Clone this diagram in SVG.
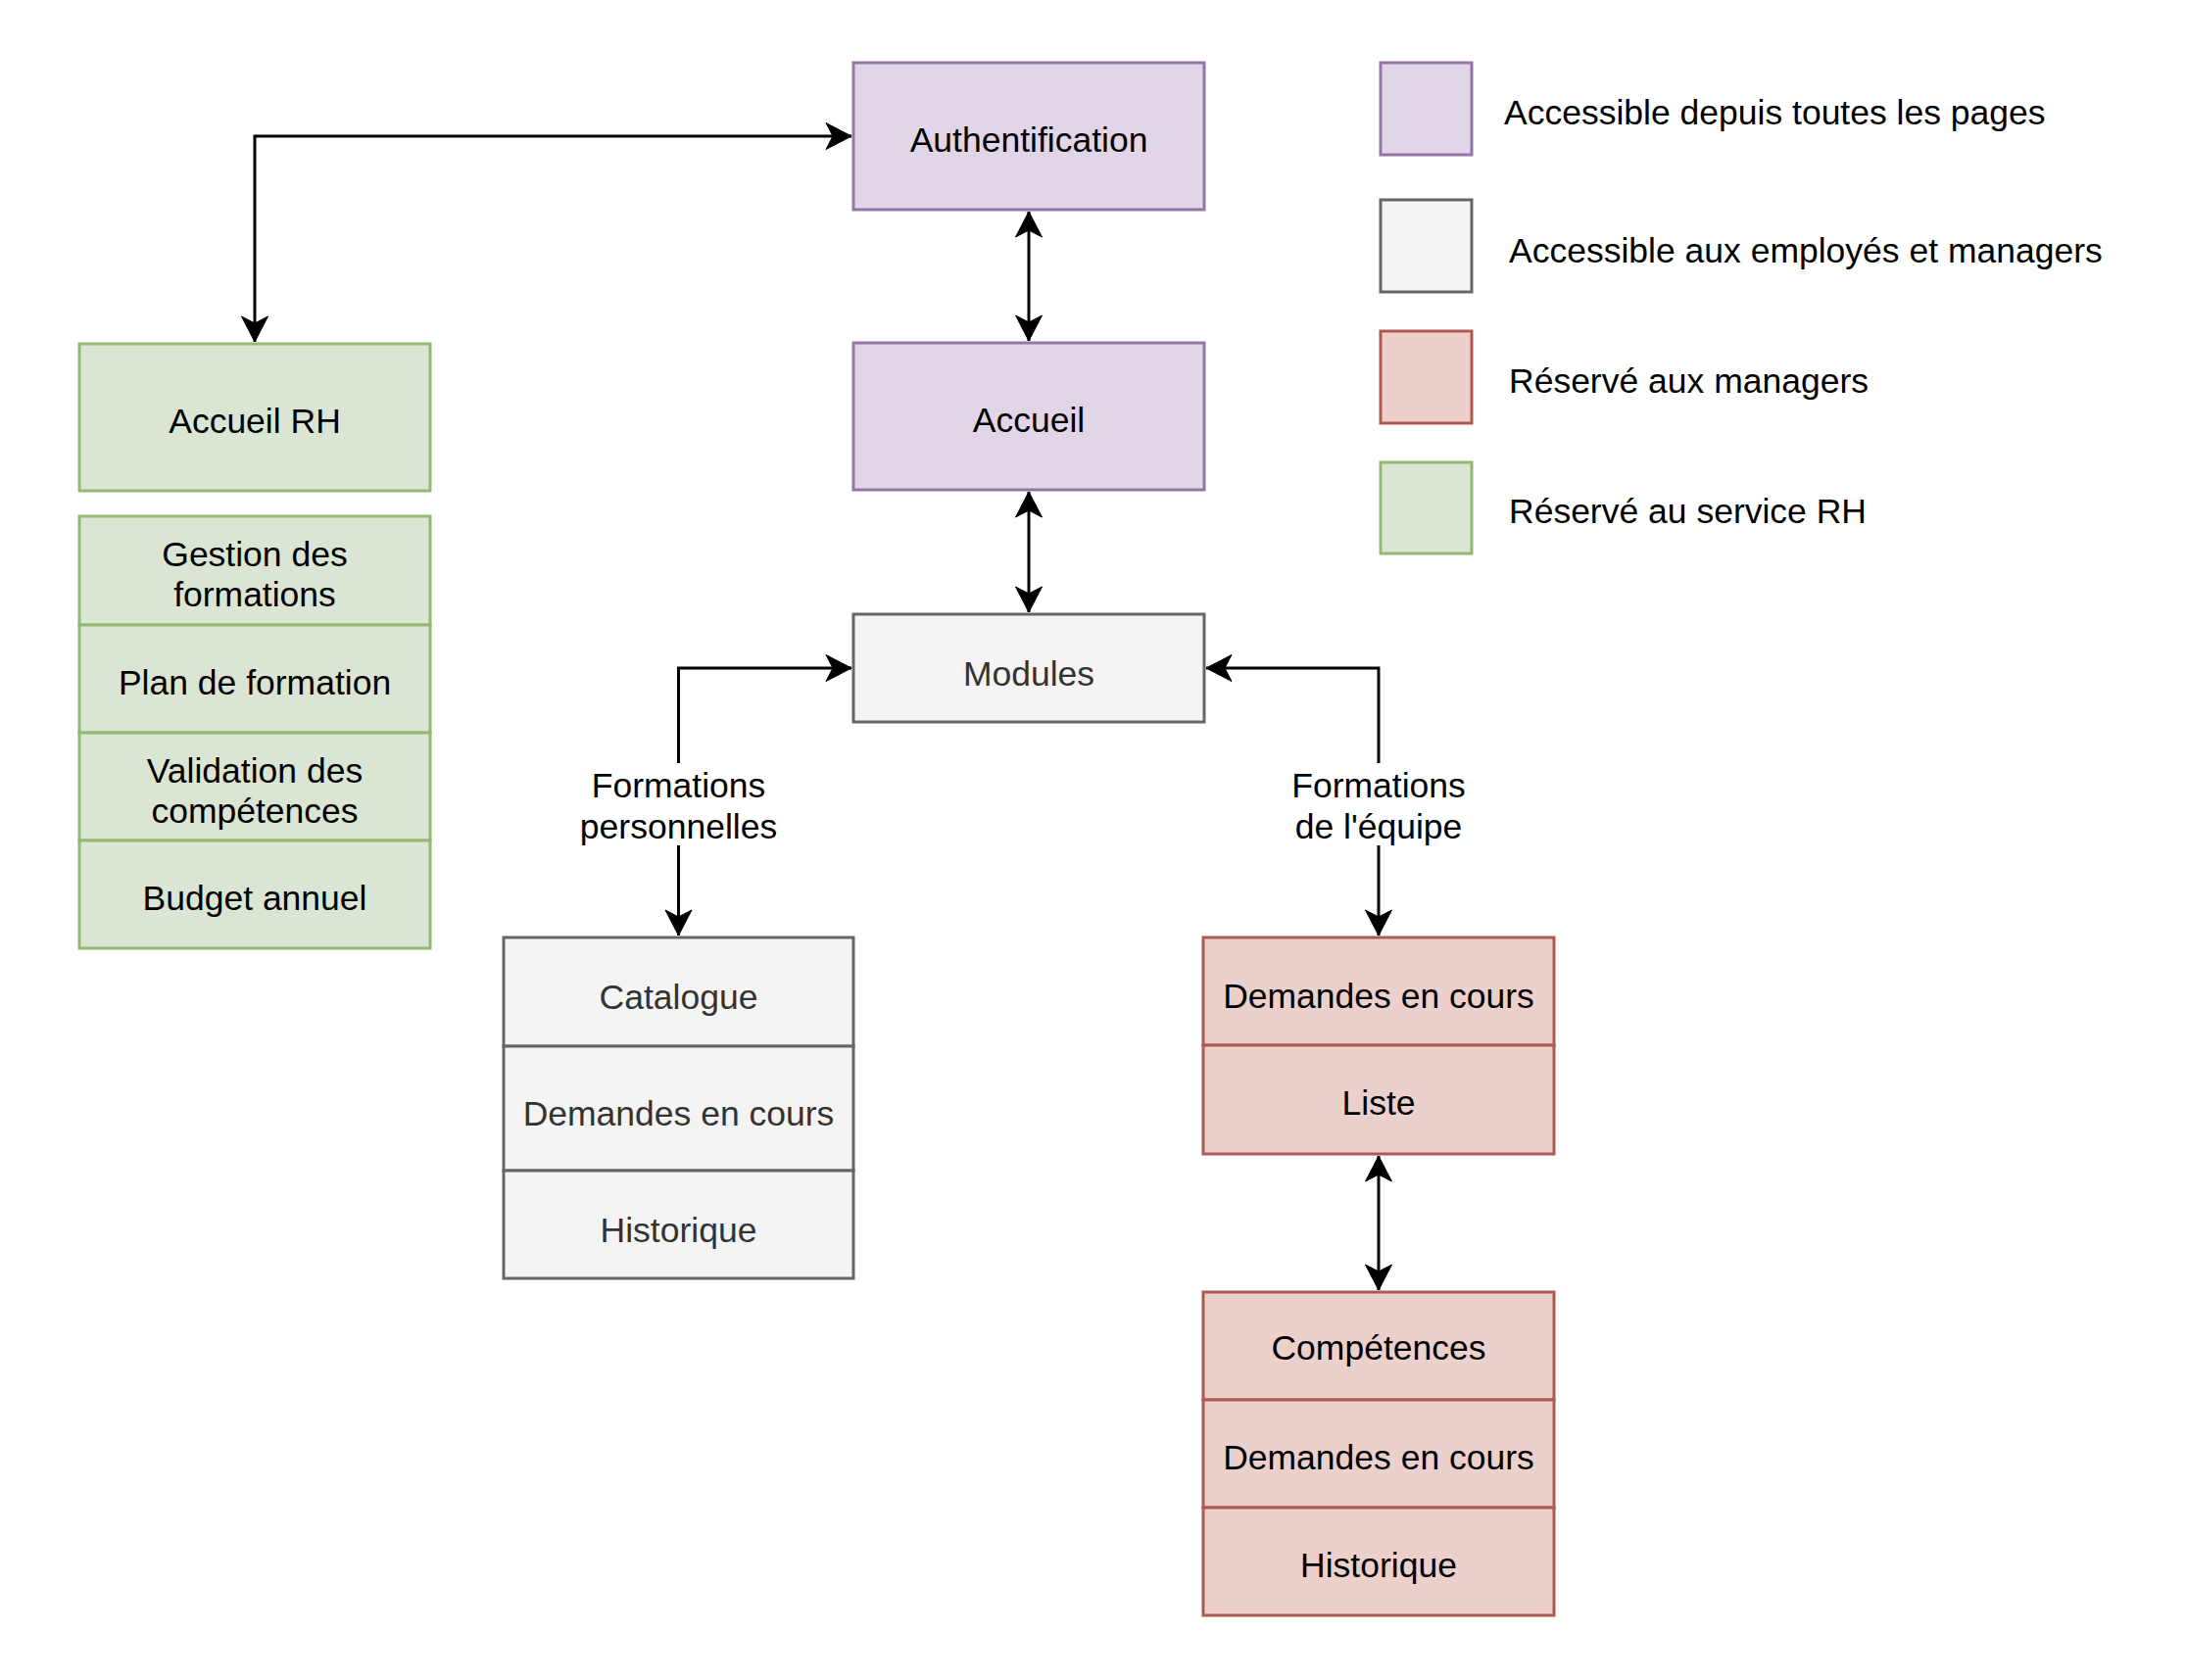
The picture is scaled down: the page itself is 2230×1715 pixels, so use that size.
<svg xmlns="http://www.w3.org/2000/svg" width="2230" height="1715" viewBox="0 0 2230 1715">
<style>
text{font-family:"Liberation Sans",Arial,Helvetica,sans-serif;font-size:35.5px;fill:#000;text-anchor:middle}
.lg text{text-anchor:start}
.pur{fill:#e0d6e8;stroke:#9277a6;stroke-width:3}
.gry{fill:#f4f4f4;stroke:#666666;stroke-width:3}
.red{fill:#ecd0cc;stroke:#ae5a52;stroke-width:3}
.grn{fill:#dae6d3;stroke:#93b872;stroke-width:3}
.gt{fill:#333333}
.edge{fill:none;stroke:#000;stroke-width:3}
</style>
<defs>
<marker id="ah" markerUnits="userSpaceOnUse" viewBox="-28 -15 30 30" refX="0" refY="0" markerWidth="30" markerHeight="30" orient="auto-start-reverse">
<path d="M0,0 L-26,-13.5 L-19,0 L-26,13.5 Z" fill="#000" stroke="#000" stroke-width="1"/>
</marker>
</defs>
<rect width="2230" height="1715" fill="#fff"/>

<g id="connectors">
<path class="edge" d="M869,139 H260 V349" marker-start="url(#ah)" marker-end="url(#ah)"/>
<path class="edge" d="M1050,216 V348" marker-start="url(#ah)" marker-end="url(#ah)"/>
<path class="edge" d="M1050,502 V625" marker-start="url(#ah)" marker-end="url(#ah)"/>
<path class="edge" d="M869,682 H692.5 V955" marker-start="url(#ah)" marker-end="url(#ah)"/>
<path class="edge" d="M1231,682 H1407 V955" marker-start="url(#ah)" marker-end="url(#ah)"/>
<path class="edge" d="M1407,1180 V1317" marker-start="url(#ah)" marker-end="url(#ah)"/>
<g id="label-perso">
<rect x="588" y="779" width="210" height="84" fill="#fff"/>
<text x="692.5" y="814">Formations</text>
<text x="692.5" y="856">personnelles</text>
</g>
<g id="label-equipe">
<rect x="1320" y="779" width="174" height="84" fill="#fff"/>
<text x="1407" y="814">Formations</text>
<text x="1407" y="856">de l'équipe</text>
</g>
</g>

<g id="auth">
<rect class="pur" x="871" y="64" width="358" height="150"/>
<text x="1050" y="155">Authentification</text>
</g>
<g id="accueil">
<rect class="pur" x="871" y="350" width="358" height="150"/>
<text x="1050" y="441">Accueil</text>
</g>
<g id="accueil-rh">
<rect class="grn" x="81" y="351" width="358" height="150"/>
<text x="260" y="442">Accueil RH</text>
</g>
<g id="rh-stack">
<rect class="grn" x="81" y="527" width="358" height="111"/>
<text x="260" y="578">Gestion des</text>
<text x="260" y="619">formations</text>
<rect class="grn" x="81" y="638" width="358" height="110"/>
<text x="260" y="709">Plan de formation</text>
<rect class="grn" x="81" y="748" width="358" height="110"/>
<text x="260" y="799">Validation des</text>
<text x="260" y="840">compétences</text>
<rect class="grn" x="81" y="858" width="358" height="110"/>
<text x="260" y="929">Budget annuel</text>
</g>
<g id="modules">
<rect class="gry" x="871" y="627" width="358" height="110"/>
<text class="gt" x="1050" y="700">Modules</text>
</g>
<g id="perso-stack">
<rect class="gry" x="514" y="957" width="357" height="111"/>
<text class="gt" x="692.5" y="1030">Catalogue</text>
<rect class="gry" x="514" y="1068" width="357" height="127"/>
<text class="gt" x="692.5" y="1149">Demandes en cours</text>
<rect class="gry" x="514" y="1195" width="357" height="110"/>
<text class="gt" x="692.5" y="1268">Historique</text>
</g>
<g id="equipe-stack">
<rect class="red" x="1228" y="957" width="358" height="110"/>
<text x="1407" y="1029">Demandes en cours</text>
<rect class="red" x="1228" y="1067" width="358" height="111"/>
<text x="1407" y="1138">Liste</text>
</g>
<g id="competences-stack">
<rect class="red" x="1228" y="1319" width="358" height="110"/>
<text x="1407" y="1388">Compétences</text>
<rect class="red" x="1228" y="1429" width="358" height="110"/>
<text x="1407" y="1500">Demandes en cours</text>
<rect class="red" x="1228" y="1539" width="358" height="110"/>
<text x="1407" y="1610">Historique</text>
</g>

<g id="legend" class="lg">
<g id="legend-1"><rect class="pur" x="1409" y="64" width="93" height="94"/><text x="1535" y="127">Accessible depuis toutes les pages</text></g>
<g id="legend-2"><rect class="gry" x="1409" y="204" width="93" height="94"/><text x="1540" y="268">Accessible aux employés et managers</text></g>
<g id="legend-3"><rect class="red" x="1409" y="338" width="93" height="94"/><text x="1540" y="401">Réservé aux managers</text></g>
<g id="legend-4"><rect class="grn" x="1409" y="472" width="93" height="93"/><text x="1540" y="534">Réservé au service RH</text></g>
</g>
</svg>
